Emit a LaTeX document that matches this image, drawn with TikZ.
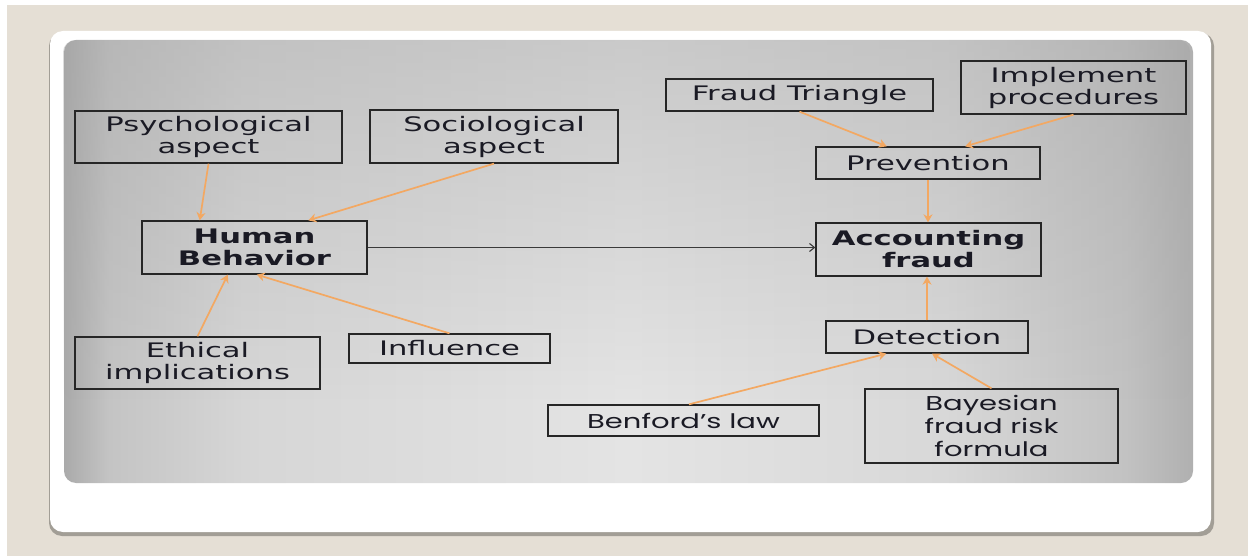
\documentclass[tikz,border=0pt]{standalone}
\usepackage{fontspec}
\setmainfont{DejaVu Sans}[FakeStretch=1.53]
\newfontfamily\geofont{Poppins}[FakeStretch=1.45]
\usetikzlibrary{arrows.meta,calc,fadings}

\definecolor{pagebg}{HTML}{E5DFD5}
\definecolor{cardshadow}{HTML}{A29E96}
\definecolor{pA}{HTML}{AAAAAA}
\definecolor{pB}{HTML}{C4C4C4}
\definecolor{pC}{HTML}{D6D6D6}
\definecolor{pD}{HTML}{E4E4E4}
\definecolor{pE}{HTML}{D8D8D8}
\definecolor{pF}{HTML}{C2C2C2}
\definecolor{pG}{HTML}{B0B0B0}
\definecolor{paneltop}{HTML}{A4A4A4}
\definecolor{boxline}{HTML}{262626}
\definecolor{inktext}{HTML}{1A1A24}
\definecolor{linkorange}{HTML}{F3A862}
\definecolor{linkdark}{HTML}{3A3A3A}

% panel background: darker at the sides, light in the middle
\pgfdeclarehorizontalshading{panelh}{100bp}{color(0bp)=(pA); color(25bp)=(pA);
  color(27bp)=(pB); color(33bp)=(pC); color(50bp)=(pD); color(64bp)=(pE);
  color(72bp)=(pF); color(75bp)=(pG); color(100bp)=(pG)}
\tikzfading[name=fadedown, top color=transparent!60, bottom color=transparent!100]

\tikzset{
  box/.style={draw=boxline, line width=1.3pt, inner sep=0pt, align=center,
              text=inktext, font=\fontsize{20}{22}\selectfont},
  boldbox/.style={box, font=\fontsize{20}{22}\selectfont\bfseries},
  geobox/.style={box, font=\geofont\fontsize{20}{23}\selectfont},
  link/.style={draw=linkorange, line width=1.7pt,
               -{Stealth[length=8pt,width=9pt,inset=2.5pt]}},
  mainlink/.style={draw=linkdark, line width=1.1pt,
               -{Straight Barb[length=5pt,width=8pt]}},
}

\begin{document}
\begin{tikzpicture}[x=1pt, y=-1pt]
\useasboundingbox (0,0) rectangle (1248,556);

% page and card
\fill[white] (0,0) rectangle (1248,556);
\fill[pagebg] (7,5) rectangle (1248,556);
\fill[cardshadow, rounded corners=13pt] (49,33) rectangle (1214,536);
\fill[white, rounded corners=13pt] (50,31) rectangle (1211,532);

% grey panel
\shade[rounded corners=12pt, shading=panelh] (64,40) rectangle (1193,483);
\fill[paneltop, path fading=fadedown, rounded corners=12pt] (64,40) rectangle (1193,400);

% boxes
\node[box, minimum width=267pt, minimum height=52pt] (psy) at (208.5,137) {Psychological\\aspect};
\node[box, minimum width=248pt, minimum height=53pt] (soc) at (494,136.5) {Sociological\\aspect};
\node[box, minimum width=267pt, minimum height=32pt] (tri) at (799.5,95) {Fraud Triangle};
\node[box, minimum width=225pt, minimum height=53pt] (impl) at (1073.5,87.5) {Implement\\procedures};
\node[box, minimum width=224pt, minimum height=32pt] (prev) at (928,163) {Prevention};
\node[boldbox, minimum width=225pt, minimum height=53pt] (hum) at (254.5,247.5) {Human\\Behavior};
\node[boldbox, minimum width=225pt, minimum height=53pt] (acc) at (928.5,249.5) {Accounting\\fraud};
\node[box, minimum width=245pt, minimum height=52pt] (eth) at (197.5,363) {Ethical\\implications};
\node[box, minimum width=201pt, minimum height=29pt] (inf) at (449.5,348.5) {Influence};
\node[box, minimum width=202pt, minimum height=32pt] (det) at (927,337) {Detection};
\node[geobox, minimum width=271pt, minimum height=31pt] (ben) at (683.5,420.5) {Benford’s law};
\node[geobox, minimum width=253pt, minimum height=74pt] (bay) at (991.5,426) {Bayesian\\fraud risk\\formula};

% connectors
\draw[link] (psy.south) -- ($(hum.north west)!0.258!(hum.north east)$);
\draw[link] (soc.south) -- ($(hum.north west)!0.738!(hum.north east)$);
\draw[link] (eth.north) -- ($(hum.south west)!0.382!(hum.south east)$);
\draw[link] (inf.north) -- ($(hum.south west)!0.51!(hum.south east)$);
\draw[mainlink] (hum.east) -- (hum.east -| acc.west);
\draw[link] (tri.south) -- ($(prev.north west)!0.317!(prev.north east)$);
\draw[link] (impl.south) -- ($(prev.north west)!0.665!(prev.north east)$);
\draw[link] (prev.south) -- (prev.south |- acc.north);
\draw[link] (det.north) -- (det.north |- acc.south);
\draw[link] ($(ben.north west)!0.52!(ben.north east)$) -- ($(det.south west)!0.30!(det.south east)$);
\draw[link] (bay.north) -- ($(det.south west)!0.525!(det.south east)$);
\end{tikzpicture}
\end{document}
